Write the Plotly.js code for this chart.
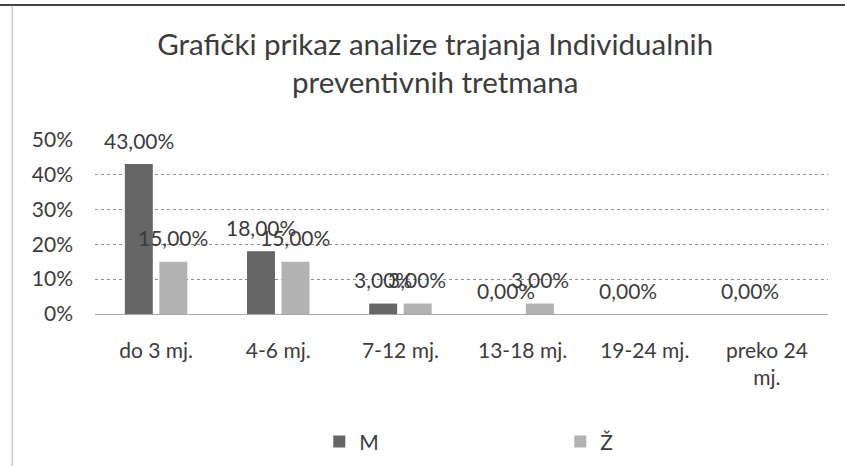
<!DOCTYPE html>
<html>
<head>
<meta charset="utf-8">
<script src="https://cdn.plot.ly/plotly-3.0.1.min.js"></script>
<style>html,body{margin:0;padding:0;background:#fff;}#chart{width:845px;height:466px;}</style>
</head>
<body>
<div id="chart"></div>
<script>
const categories = ["do 3 mj.", "4-6 mj.", "7-12 mj.", "13-18 mj.", "19-24 mj.", "preko 24<br>mj."];
const valuesM = [43, 18, 3, 0, 0, 0];
const valuesZ = [15, 15, 3, 3, 0, 0];
const showLabelZ = [true, true, true, true, false, false];
const seriesNames = ["M", "Ž"];
const yTicks = [0, 10, 20, 30, 40, 50];
const yTickText = yTicks.map(v => v + '%');

const fmt = v => v.toFixed(2).replace('.', ',') + '%';

const font = "Lato, 'Open Sans', sans-serif";
const txtColor = '#3c3c3c';
const colorM = '#666666';
const colorZ = '#b2b2b2';

const traces = [
  {type: 'bar', name: seriesNames[0], x: categories, y: valuesM,
   marker: {color: colorM}, hoverinfo: 'none'},
  {type: 'bar', name: seriesNames[1], x: categories, y: valuesZ,
   marker: {color: colorZ}, hoverinfo: 'none'}
];

// data labels built from the series arrays
const annotations = [];
categories.forEach((c, i) => {
  annotations.push({x: c, y: valuesM[i], xref: 'x', yref: 'y', text: fmt(valuesM[i]),
    showarrow: false, xshift: -17, yshift: 24, yanchor: 'middle',
    font: {family: font, size: 21, color: txtColor}});
  if (showLabelZ[i]) {
    annotations.push({x: c, y: valuesZ[i], xref: 'x', yref: 'y', text: fmt(valuesZ[i]),
      showarrow: false, xshift: 17, yshift: 24, yanchor: 'middle',
      font: {family: font, size: 21, color: txtColor}});
  }
});

const layout = {
  width: 845, height: 466,
  margin: {l: 95, r: 17, t: 139, b: 152, autoexpand: false},
  paper_bgcolor: '#ffffff', plot_bgcolor: '#ffffff',
  title: {text: 'Grafički prikaz analize trajanja Individualnih<br>preventivnih tretmana',
          font: {family: font, size: 29.5, color: txtColor},
          xref: 'container', x: 0.515, xanchor: 'center',
          yref: 'container', y: 0.882, yanchor: 'top'},
  barmode: 'group', bargap: 0.435, bargroupgap: 0.19,
  xaxis: {tickfont: {family: font, size: 21, color: txtColor}, showline: false, automargin: false,
          ticks: '', showgrid: false, fixedrange: true, ticklabelstandoff: 22},
  yaxis: {range: [0, 50.2], tickmode: 'array', tickvals: yTicks, ticktext: yTickText,
          tickfont: {family: font, size: 21, color: txtColor}, automargin: false,
          showgrid: true, gridcolor: '#8e8e8e', griddash: 'dot', gridwidth: 1,
          zeroline: true, zerolinecolor: '#a8a8a8', zerolinewidth: 1,
          showline: false, ticks: '', ticklabelstandoff: 21, fixedrange: true},
  legend: {orientation: 'h', x: 0.306, xanchor: 'left', y: -0.731, yanchor: 'middle',
           font: {family: font, size: 21, color: txtColor},
           entrywidth: 196, entrywidthmode: 'pixels', itemwidth: 30},
  annotations: annotations,
  shapes: [
    {type: 'line', xref: 'paper', yref: 'paper', x0: -0.113, x1: -0.113,
     y0: -152 / 175, y1: 309 / 175, line: {color: '#b5b5b5', width: 1}},
    {type: 'line', xref: 'paper', yref: 'paper', x0: -0.13, x1: 1.03,
     y0: 309 / 175, y1: 309 / 175, line: {color: '#444444', width: 2}}
  ],
  showlegend: true
};

Plotly.newPlot('chart', traces, layout, {staticPlot: true, displayModeBar: false});
</script>
</body>
</html>
